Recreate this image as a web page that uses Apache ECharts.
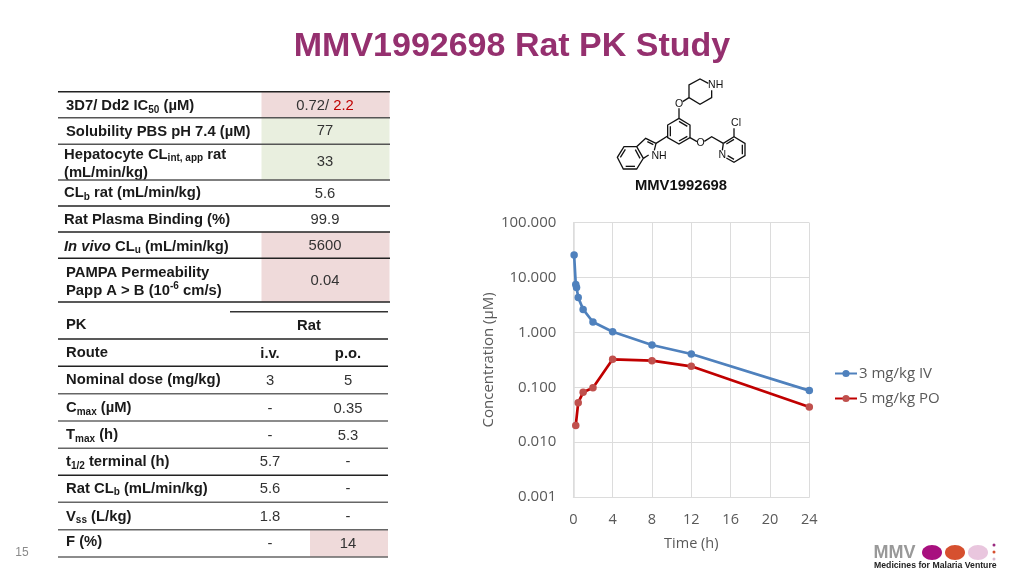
<!DOCTYPE html>
<html><head><meta charset="utf-8">
<script src="https://cdn.jsdelivr.net/npm/echarts@6/dist/echarts.min.js"></script>
<style>html,body{margin:0;padding:0;background:#fff}#c{width:1024px;height:576px}</style>
</head><body><div id="c"></div>
<script>
const ivTime = [0.083, 0.25, 0.33, 0.5, 1, 2, 4, 8, 12, 24];
const ivConc = [25.8, 7.5, 6.6, 4.35, 2.63, 1.55, 1.03, 0.59, 0.404, 0.087];
const poTime = [0.25, 0.5, 1, 2, 4, 8, 12, 24];
const poConc = [0.0202, 0.0524, 0.081, 0.098, 0.323, 0.305, 0.241, 0.0437];
const ivName = '3 mg/kg IV';
const poName = '5 mg/kg PO';

const propRows = [
  ['{b|3D7/ Dd2 IC}{s|50}{b| (µM)}', '{v|0.72/ }{r|2.2}'],
  ['{b|Solubility PBS pH 7.4 (µM)}', '77'],
  ['{b|Hepatocyte CL}{s|int, app}{b| rat}\n{b|(mL/min/kg)}', '33'],
  ['{b|CL}{s|b}{b| rat (mL/min/kg)}', '5.6'],
  ['{b|Rat Plasma Binding (%)}', '99.9'],
  ['{i|In vivo}{b| CL}{s|u}{b| (mL/min/kg)}', '5600'],
  ['{b|PAMPA Permeability}\n{b|Papp A > B (10}{u|-6}{b| cm/s)}', '0.04']
];
const pkRows = [
  ['{b|Route}', 'i.v.', 'p.o.'],
  ['{b|Nominal dose (mg/kg)}', '3', '5'],
  ['{b|C}{s|max}{b| (µM)}', '-', '0.35'],
  ['{b|T}{s|max}{b| (h)}', '-', '5.3'],
  ['{b|t}{s|1/2}{b| terminal (h)}', '5.7', '-'],
  ['{b|Rat CL}{s|b}{b| (mL/min/kg)}', '5.6', '-'],
  ['{b|V}{s|ss}{b| (L/kg)}', '1.8', '-'],
  ['{b|F (%)}', '-', '14']
];

// layout of the slide furniture
const propLines = [91.7,117.7,144.3,180,206,232,258.3,302];
const propLabelX = [66,66,64,64,64,64,66];
const propLabelY = [106,131.5,163.5,193,220,246.5,281.5];
const propValueY = [105.5,131,162,194,220,246,281];
const propFill = ['#EFDADA','#E9EFDF','#E9EFDF',null,null,'#EFDADA','#EFDADA'];
const pkLines = [339,366.3,393.7,421,448.3,475.3,502.3,529.7,557];
const pkLabelY = [352.5,380,408,435,462,488.5,516.5,542];
const pkValueY = [353.5,381,409,436,462,489,517,544];

const FF = '"Liberation Sans", Arial, sans-serif';
const FS = 14.8;
const rich = {
  b:{fontFamily:FF,fontSize:FS,fontWeight:'bold',fill:'#1a1a1a',lineHeight:18,verticalAlign:'middle'},
  i:{fontFamily:FF,fontSize:FS,fontWeight:'bold',fontStyle:'italic',fill:'#1a1a1a',lineHeight:18,verticalAlign:'middle'},
  s:{fontFamily:FF,fontSize:10,fontWeight:'bold',fill:'#1a1a1a',lineHeight:11,verticalAlign:'bottom',padding:[3,0,0,0]},
  u:{fontFamily:FF,fontSize:10,fontWeight:'bold',fill:'#1a1a1a',lineHeight:11,verticalAlign:'top'},
  v:{fontFamily:FF,fontSize:FS,fill:'#333',lineHeight:18},
  r:{fontFamily:FF,fontSize:FS,fill:'#C00000',lineHeight:18}
};
const g = [];
const rect=(x,y,w,h,fill)=>g.push({type:'rect',silent:true,shape:{x,y,width:w,height:h},style:{fill}});
const hline=(x1,x2,y,c)=>g.push({type:'line',silent:true,shape:{x1,y1:y,x2,y2:y},style:{stroke:c||'#222',lineWidth:1.4}});
const txt=(x,y,text,o)=>g.push({type:'text',silent:true,style:Object.assign({x,y,text,align:'left',verticalAlign:'middle',rich,fontFamily:FF,fontSize:FS,fill:'#333'},o||{})});

// title, page number
txt(512,47,'MMV1992698 Rat PK Study',{align:'center',fontSize:34,fontWeight:'bold',fill:'#95306F'});
txt(22,553,'15',{align:'center',fontSize:12,fill:'#8a8a8a'});

// property table
propRows.forEach((r,i)=>{
  if(propFill[i]) rect(261.5,propLines[i],128,propLines[i+1]-propLines[i],propFill[i]);
  txt(propLabelX[i],propLabelY[i],r[0]);
  txt(325,propValueY[i],r[1],{align:'center'});
});
propLines.forEach((y,i)=>hline(58,390,y,(i==1||i==2||i==3)?'#555':'#222'));

// PK table
rect(310,529.7,78,27.3,'#EFDADA');
hline(230,388,311.7,'#333');
txt(66,325,'{b|PK}');
txt(309,326,'{b|Rat}',{align:'center'});
pkRows.forEach((r,i)=>{
  const hdr=i==0;
  txt(66,pkLabelY[i],r[0]);
  txt(270,pkValueY[i],hdr?'{b|'+r[1]+'}':r[1],{align:'center'});
  txt(348,pkValueY[i],hdr?'{b|'+r[2]+'}':r[2],{align:'center'});
});
pkLines.forEach((y,i)=>hline(58,388,y,(i>=2&&i<=4)||i>=6?'#666':'#222'));

// molecule: structure sketch, two crop frames at 1/3 scale
const at=(ox,oy)=>(p)=>[ox+p[0]/3,oy+p[1]/3];
const L=at(610,125), R=at(665,75);
const mol=(f,pts)=>g.push({type:'polyline',silent:true,shape:{points:pts.map(f)},style:{stroke:'#111',lineWidth:1.3,fill:null}});
// indole
mol(L,[[80,65],[42,65],[22,97],[40,132],[80,132],[100,100],[80,65],[107,40],[138,55],[133,76]]);
mol(L,[[116,90],[100,100]]);
mol(L,[[138,55],[173,33]]);
mol(L,[[112,50],[130,59]]); mol(L,[[31,97],[46,73]]); mol(L,[[47,124],[75,124]]); mol(L,[[90,100],[76,74]]);
// piperidine
mol(R,[[130,25],[105,12],[72,30],[72,68],[105,88],[140,68],[140,46]]);
mol(R,[[72,68],[53,80]]); mol(R,[[42,100],[42,130]]);
// central benzene
mol(R,[[42,130],[75,150],[75,188],[42,207],[8,188],[8,150],[42,130]]);
mol(R,[[42,139],[67,154]]); mol(R,[[67,184],[42,198]]); mol(R,[[16,184],[16,154]]);
// linker and pyridine
mol(R,[[75,188],[96,200]]); mol(R,[[118,199],[140,185],[175,205]]);
mol(R,[[175,205],[207,185],[240,205],[240,242],[207,262],[184,249]]); mol(R,[[175,205],[172,226]]);
mol(R,[[184,207],[207,193]]); mol(R,[[232,209],[232,238]]); mol(R,[[207,253],[188,242]]);
mol(R,[[207,185],[207,160]]);
const molLabels=[[R,'NH',152,31],[R,'O',42,88],[R,'O',107,203],[R,'Cl',213,145],[R,'N',172,240],[L,'NH',147,92]];
molLabels.forEach(l=>{const p=l[0]([l[2],l[3]]);txt(p[0],p[1],l[1],{align:'center',fontSize:10.5,fill:'#111'});});
txt(681,186,'MMV1992698',{align:'center',fontSize:FS,fontWeight:'bold',fill:'#111'});

// logo
txt(873.5,553,'MMV',{fontSize:18,fontWeight:'bold',fill:'#999'});
[[932,'#A8107F'],[955,'#D6502F'],[978,'#E9C6DE']].forEach(o=>g.push({type:'ellipse',silent:true,shape:{cx:o[0],cy:552.5,rx:10,ry:7.5},style:{fill:o[1]}}));
[[545,'#9a2a80'],[552,'#D6502F'],[559,'#D8B8D0']].forEach(o=>g.push({type:'circle',silent:true,shape:{cx:994,cy:o[0],r:1.5},style:{fill:o[1]}}));
txt(874,566,'Medicines for Malaria Venture',{fontSize:8.7,fontWeight:'bold',fill:'#222'});

const chart=echarts.init(document.getElementById('c'));
const OS='"Open Sans"', GR='#595959', GL='#DCDCDC';
const zip=(a,b)=>a.map((v,i)=>[v,b[i]]);
chart.setOption({
  animation:false,
  backgroundColor:'#fff',
  grid:{left:573.3,top:222.7,width:236,height:274.3},
  xAxis:{type:'value',min:0,max:24,interval:4,
    name:'Time (h)',nameLocation:'middle',nameGap:39,nameTextStyle:{fontFamily:OS,fontSize:14.5,color:GR},
    axisLine:{onZero:false,lineStyle:{color:GL}},axisTick:{show:false},
    axisLabel:{margin:15,fontSize:14.5,fontFamily:OS,color:GR},
    splitLine:{show:true,lineStyle:{color:GL}}},
  yAxis:{type:'log',logBase:10,min:0.001,max:100,
    name:'Concentration (µM)',nameLocation:'middle',nameGap:77,nameTextStyle:{fontFamily:OS,fontSize:15,color:GR},
    axisLine:{show:true,onZero:false,lineStyle:{color:GL,width:1.5}},axisTick:{show:false},
    axisLabel:{margin:17,formatter:v=>Number(v).toFixed(3),fontFamily:OS,fontSize:15,color:GR},
    splitLine:{show:true,lineStyle:{color:GL}},minorSplitLine:{show:false}},
  legend:{orient:'vertical',left:829,top:361,itemWidth:22,itemHeight:9,itemGap:10,
    data:[ivName,poName],textStyle:{fontFamily:OS,fontSize:15,color:GR,padding:[0,0,0,-3]}},
  series:[
    {name:ivName,type:'line',data:zip(ivTime,ivConc),symbol:'circle',symbolSize:7.5,
      lineStyle:{color:'#4F81BD',width:2.7},itemStyle:{color:'#4F81BD'}},
    {name:poName,type:'line',data:zip(poTime,poConc),symbol:'circle',symbolSize:7.5,
      lineStyle:{color:'#C00000',width:2.7},itemStyle:{color:'#C0504D'}}
  ],
  graphic:{elements:g}
});
</script></body></html>
